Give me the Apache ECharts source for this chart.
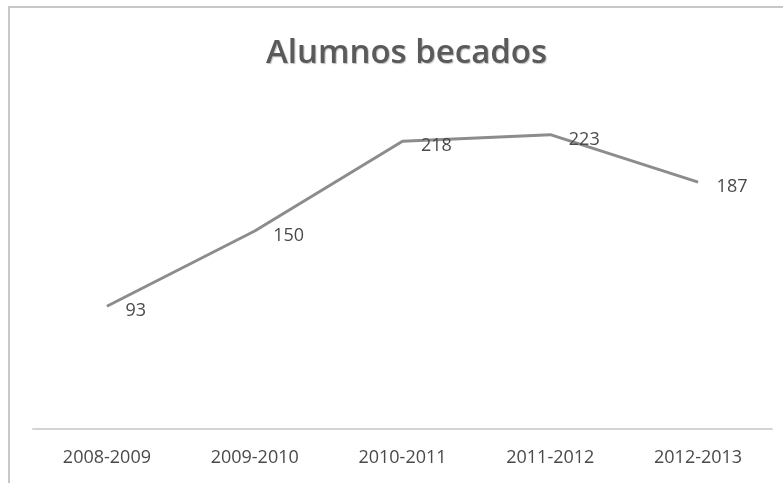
<!DOCTYPE html>
<html>
<head>
<meta charset="utf-8">
<script src="https://cdn.jsdelivr.net/npm/echarts@6/dist/echarts.min.js"></script>
<style>html,body{margin:0;padding:0;background:#fff;}#c{width:783px;height:483px;}</style>
</head>
<body>
<div id="c"></div>
<script>
var categories = ['2008-2009', '2009-2010', '2010-2011', '2011-2012', '2012-2013'];
var becados = [93, 150, 218, 223, 187];
var titleText = 'Alumnos becados';

var chart = echarts.init(document.getElementById('c'));
chart.setOption({
  backgroundColor: '#ffffff',
  animation: false,
  graphic: [{
    type: 'rect',
    shape: { x: 9, y: 7, width: 790, height: 500 },
    style: { fill: 'none', stroke: '#c8c8c8', lineWidth: 2 },
    silent: true
  }],
  title: {
    text: titleText,
    left: 261,
    top: 32,
    textStyle: {
      fontFamily: 'Open Sans',
      fontSize: 33,
      fontWeight: 600,
      color: '#5a5a5a',
      textShadowColor: 'rgba(0,0,0,0.25)',
      textShadowBlur: 1,
      textShadowOffsetX: 1,
      textShadowOffsetY: 1
    }
  },
  grid: { left: 33, right: 11, top: 99, bottom: 54 },
  xAxis: {
    type: 'category',
    data: categories,
    boundaryGap: true,
    axisLine: { show: true, lineStyle: { color: '#d4d4d4', width: 2 } },
    axisTick: { show: false },
    axisLabel: {
      fontFamily: 'Open Sans',
      fontSize: 18,
      color: '#4a4a4a',
      margin: 20
    }
  },
  yAxis: {
    type: 'value',
    min: 0,
    max: 250,
    show: false,
    splitLine: { show: false }
  },
  series: [{
    type: 'line',
    data: becados,
    showSymbol: true,
    symbol: 'circle',
    symbolSize: 1,
    itemStyle: { color: 'rgba(0,0,0,0)' },
    lineStyle: { color: '#8c8c8c', width: 3 },
    label: {
      show: true,
      position: 'right',
      distance: 18,
      offset: [0, 5],
      fontFamily: 'Open Sans',
      fontSize: 18,
      color: '#4a4a4a'
    }
  }]
});
</script>
</body>
</html>
